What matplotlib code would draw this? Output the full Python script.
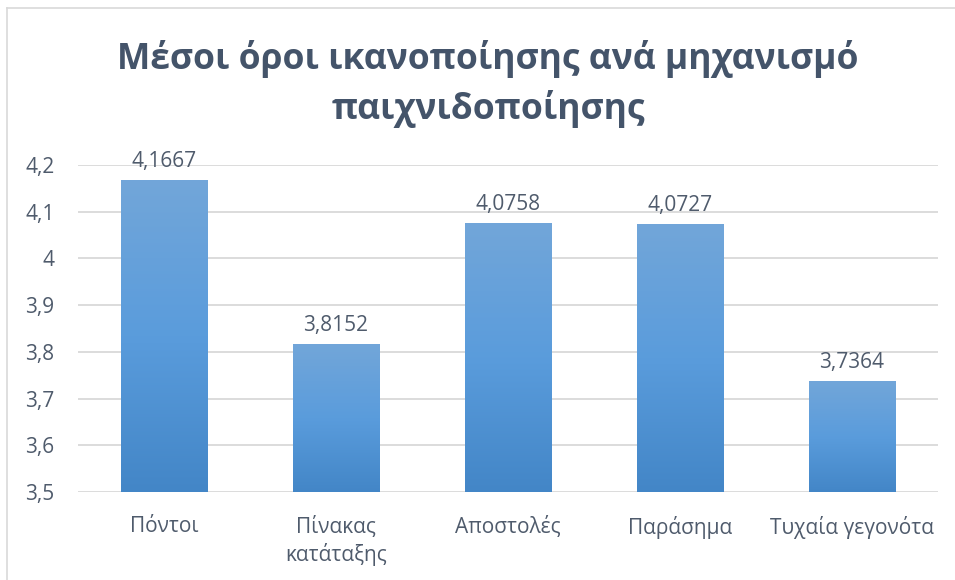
import numpy as np
import matplotlib
matplotlib.use("Agg")
import matplotlib.pyplot as plt
from matplotlib.colors import LinearSegmentedColormap

# Μέσοι όροι ανά μηχανισμό
categories = ["Πόντοι", "Πίνακας\nκατάταξης", "Αποστολές", "Παράσημα", "Τυχαία γεγονότα"]
means = [4.1667, 3.8152, 4.0758, 4.0727, 3.7364]
yticks = [3.5, 3.6, 3.7, 3.8, 3.9, 4.0, 4.1, 4.2]

TEXT = "#44546A"
LABEL = "#4F5B6C"
GRID = "#D9D9D9"

plt.rcParams["font.family"] = ["Open Sans", "DejaVu Sans"]

W, H = 955, 580
fig = plt.figure(figsize=(W / 100, H / 100), dpi=100)

# chart frame (only top and left edges fall inside the image)
fig.add_artist(plt.Line2D([7 / W, 1], [1 - 8 / H, 1 - 8 / H], color=GRID, lw=1.2))
fig.add_artist(plt.Line2D([7 / W, 7 / W], [0, 1 - 8 / H], color=GRID, lw=1.2))

fig.text(488 / W, 1 - 59 / H, "Μέσοι όροι ικανοποίησης ανά μηχανισμό",
         ha="center", va="center", fontsize=25.5, fontweight="bold", color=TEXT)
fig.text(488 / W, 1 - 109 / H, "παιχνιδοποίησης",
         ha="center", va="center", fontsize=25.5, fontweight="bold", color=TEXT)

left, right, top, bottom = 78, 938, 165, 492
ax = fig.add_axes([left / W, 1 - bottom / H, (right - left) / W, (bottom - top) / H])

ymin, ymax = yticks[0], yticks[-1]

# gradient fill, lighter at the top of each bar
cmap = LinearSegmentedColormap.from_list("bar", ["#4386C7", "#5A9CDC", "#72A6D9"])
grad = np.linspace(0, 1, 256).reshape(-1, 1)
width = 0.505
x = np.arange(len(categories))
for xi, v in zip(x, means):
    ax.imshow(grad, cmap=cmap, origin="lower", aspect="auto", interpolation="bicubic",
              extent=[xi - width / 2, xi + width / 2, ymin, v], zorder=2)
    ax.annotate(f"{v:.4f}".replace(".", ","), (xi, v), xytext=(0, 6),
                textcoords="offset points", ha="center", va="bottom",
                fontsize=15, color=LABEL)
ax.set_xlim(-0.5, len(categories) - 0.5)
ax.set_ylim(ymin, ymax)

for t in yticks:
    ax.axhline(t, color=GRID, lw=1.3, zorder=1)

ax.set_yticks(yticks)
ax.set_yticklabels([f"{t:g}".replace(".", ",") for t in yticks])
ax.set_xticks(x)
ax.set_xticklabels(categories, linespacing=1.3)
ax.tick_params(axis="y", length=0, pad=17, labelsize=15, labelcolor=LABEL)
ax.tick_params(axis="x", length=0, pad=17, labelsize=15, labelcolor=LABEL)
for s in ax.spines.values():
    s.set_visible(False)

fig.savefig("out.png", dpi=100)
